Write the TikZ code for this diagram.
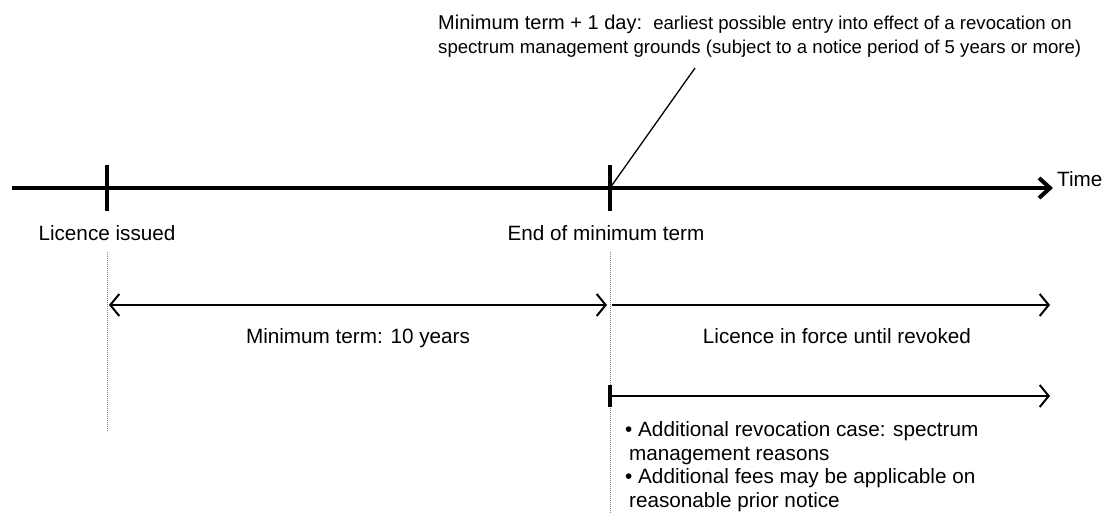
\documentclass[tikz,border=0pt]{standalone}
\usepackage{fontspec}
\setmainfont{Liberation Sans}
\usetikzlibrary{arrows.meta}
\tikzset{
  lbl/.style={font=\fontsize{20.7}{23.5}\selectfont, inner sep=0pt, anchor=base},
  lbll/.style={font=\fontsize{20.7}{23.5}\selectfont, inner sep=0pt, anchor=base west},
  note/.style={font=\fontsize{18.6}{21}\selectfont, inner sep=0pt, anchor=base west},
  axisline/.style={line width=4pt, -{Straight Barb[length=11pt,width=20pt]}},
  tickmark/.style={fill=black, draw=none, inner sep=0pt, minimum width=4pt, minimum height=46pt},
  startbar/.style={fill=black, draw=none, inner sep=0pt, minimum width=3.5pt, minimum height=22pt},
  guide/.style={gray, line width=1pt, dash pattern=on 1pt off 1pt},
  span/.style={line width=2pt},
  barb/.tip={Straight Barb[length=9pt,width=22pt]},
  leader/.style={line width=1.3pt}
}
\begin{document}
\begin{tikzpicture}[x=1pt,y=-1pt]
\useasboundingbox (0,0) rectangle (1104,514);
% main time axis
\coordinate (a0) at (12,188);
\coordinate (a1) at (1053,188);
\draw[axisline] (a0) -- (a1);
\node[lbll] (time) at (1057,186) {Time};
% ticks
\node[tickmark] (t1) at (107,188) {};
\node[tickmark] (t2) at (610,188) {};
% labels below ticks
\node[lbl] (issued) at (107,240) {Licence issued};
\node[lbl] (endmin) at (606,240) {End of minimum term};
% guides
\coordinate (g1a) at (107,252);
\coordinate (g1b) at (107,432);
\coordinate (g2a) at (610,252);
\coordinate (g2b) at (610,514);
\draw[guide] (g1a) -- (g1b);
\draw[guide] (g2a) -- (g2b);
% minimum term span
\coordinate (m0) at (109,305);
\coordinate (m1) at (607,305);
\draw[span, barb-barb] (m0) -- (m1);
\node[lbl] (minterm) at (358,343) {Minimum term: 10 years};
% in force span
\coordinate (f0) at (612,305);
\coordinate (f1) at (1050,305);
\draw[span, -barb] (f0) -- (f1);
\node[lbl] (inforce) at (837,343) {Licence in force until revoked};
% additional revocation span
\node[startbar] (bar) at (610,396) {};
\coordinate (r1) at (1050,396);
\draw[span, -barb] (bar.center) -- (r1);
\node[lbll] (b1) at (625,436) {• Additional revocation case: spectrum};
\node[lbll] (b2) at (629,460) {management reasons};
\node[lbll] (b3) at (625,483) {• Additional fees may be applicable on};
\node[lbll] (b4) at (629,507) {reasonable prior notice};
% top note
\node[note] (n1) at (438,30) {{\fontsize{20}{21}\selectfont Minimum term + 1 day:\ \ }earliest possible entry into effect of a revocation on};
\node[note] (n2) at (438,53) {spectrum management grounds (subject to a notice period of 5 years or more)};
\coordinate (lead) at (695,68);
\draw[leader] (t2.center) -- (lead);
\end{tikzpicture}
\end{document}
